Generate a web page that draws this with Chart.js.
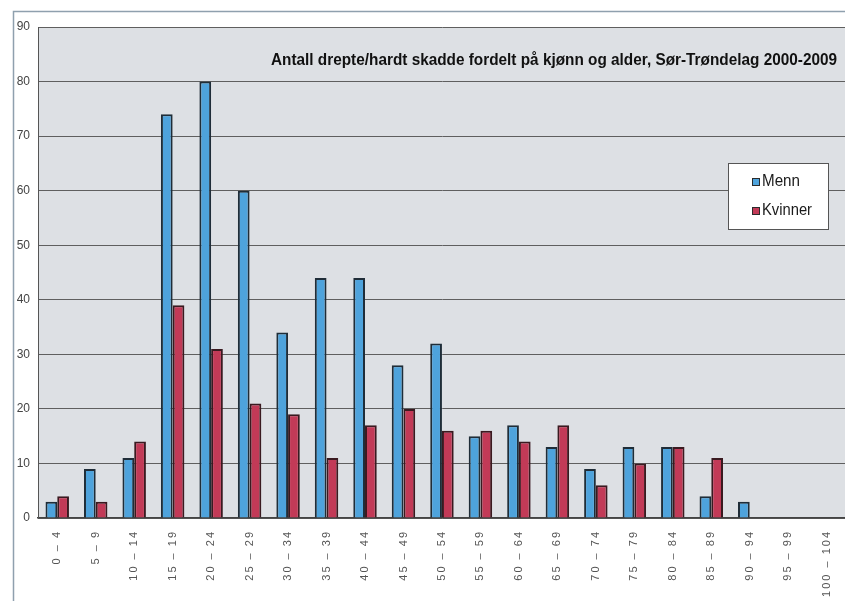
<!DOCTYPE html>
<html>
<head>
<meta charset="utf-8">
<script src="https://cdn.jsdelivr.net/npm/chart.js@4.4.1/dist/chart.umd.min.js"></script>
<style>
  html, body { margin: 0; padding: 0; background: #fff; }
  #wrap { position: relative; width: 845px; height: 601px; overflow: hidden; }
  #skadde { position: absolute; left: 0; top: 0; }
</style>
</head>
<body>
<div id="wrap"><canvas id="skadde" width="852" height="601"></canvas></div>
<script>
// aldersgrupper og antall drepte/hardt skadde
const ageGroups = ['0 – 4', '5 – 9', '10 – 14', '15 – 19', '20 – 24', '25 – 29', '30 – 34',
  '35 – 39', '40 – 44', '45 – 49', '50 – 54', '55 – 59', '60 – 64', '65 – 69', '70 – 74',
  '75 – 79', '80 – 84', '85 – 89', '90 – 94', '95 – 99', '100 – 104'];
const menn    = [3, 9, 11, 74, 80, 60, 34, 44, 44, 28, 32, 15, 17, 13, 9, 13, 13, 4, 3, 0, 0];
const kvinner = [4, 3, 14, 39, 31, 21, 19, 11, 17, 20, 16, 16, 14, 17, 6, 10, 13, 11, 0, 0, 0];
const yTicks  = [0, 10, 20, 30, 40, 50, 60, 70, 80, 90];

const titleText = 'Antall drepte/hardt skadde fordelt på kjønn og alder, Sør-Trøndelag 2000-2009';
const narrow = '"Liberation Sans Narrow", "Arial Narrow", "Liberation Sans", Arial, sans-serif';

// grey plot background, outer frame, title and the boxed legend inside the plot
const decor = {
  id: 'decor',
  beforeDraw(chart) {
    const { ctx, chartArea: a } = chart;
    ctx.save();
    ctx.fillStyle = '#dde0e4';
    ctx.fillRect(a.left, a.top, a.right - a.left, a.bottom - a.top);
    ctx.strokeStyle = '#8fa0ae';
    ctx.lineWidth = 1.5;
    ctx.beginPath();
    ctx.moveTo(13.5, 601);
    ctx.lineTo(13.5, 11.5);
    ctx.lineTo(852, 11.5);
    ctx.stroke();
    ctx.restore();
  },
  afterDraw(chart) {
    const { ctx } = chart;
    ctx.save();
    ctx.letterSpacing = '0px';
    // title, squeezed to the width it has in the original
    ctx.font = 'bold 17px ' + narrow;
    ctx.fillStyle = '#111';
    ctx.textBaseline = 'middle';
    const w = ctx.measureText(titleText).width;
    const target = 566;
    ctx.save();
    ctx.translate(837, 60);
    ctx.scale(target / w, 1);
    ctx.textAlign = 'right';
    ctx.fillText(titleText, 0, 0);
    ctx.restore();

    // legend box
    const bx = 728, by = 163, bw = 100, bh = 66;
    ctx.fillStyle = '#ffffff';
    ctx.fillRect(bx, by, bw, bh);
    ctx.strokeStyle = '#555';
    ctx.lineWidth = 1;
    ctx.strokeRect(bx + 0.5, by + 0.5, bw, bh);
    ctx.textAlign = 'left';
    chart.data.datasets.forEach((ds, i) => {
      const cy = 182 + i * 29;
      ctx.fillStyle = ds.backgroundColor;
      ctx.fillRect(752, cy - 4, 8, 8);
      ctx.strokeStyle = '#2b2b2b';
      ctx.strokeRect(752.5, cy - 3.5, 7, 7);
      ctx.fillStyle = '#1a1a1a';
      ctx.font = '16px ' + narrow;
      const tw = ctx.measureText(ds.label).width;
      const want = i === 0 ? 38 : 50;
      ctx.save();
      ctx.translate(762, cy);
      ctx.scale(want / tw, 1);
      ctx.fillText(ds.label, 0, 0);
      ctx.restore();
    });
    ctx.restore();
  },
  afterLayout(chart) {
    // spaced-out rotated category labels as in the scan
    const s = chart.scales.x;
    if (s && !s._spaced) {
      const orig = s.drawLabels.bind(s);
      s.drawLabels = function (area) {
        this.ctx.save();
        this.ctx.letterSpacing = '2px';
        orig(area);
        this.ctx.restore();
      };
      s._spaced = true;
    }
  }
};

const ctx = document.getElementById('skadde').getContext('2d');
const chart = new Chart(ctx, {
  type: 'bar',
  data: {
    labels: ageGroups,
    datasets: [
      {
        label: 'Menn',
        data: menn,
        backgroundColor: '#4ea3dc',
        borderColor: '#1f2d38',
        borderWidth: 2,
        borderSkipped: 'bottom'
      },
      {
        label: 'Kvinner',
        data: kvinner,
        backgroundColor: '#c23a57',
        borderColor: '#3a1a20',
        borderWidth: 2,
        borderSkipped: 'bottom'
      }
    ]
  },
  options: {
    responsive: false,
    animation: false,
    layout: { padding: { top: 27, right: 5, left: 0, bottom: 0 } },
    datasets: {
      bar: { categoryPercentage: 0.61, barPercentage: 1.0 }
    },
    plugins: {
      legend: { display: false },
      tooltip: { enabled: false }
    },
    scales: {
      x: {
        grid: { display: false, drawTicks: false },
        border: { display: true, color: '#444', width: 1.5 },
        ticks: {
          autoSkip: false,
          minRotation: 90,
          maxRotation: 90,
          padding: 12,
          color: '#555',
          font: { family: '"Liberation Sans", Arial, sans-serif', size: 11 }
        },
        afterFit(scale) { scale.height = 83; }
      },
      y: {
        min: 0,
        max: 90,
        afterBuildTicks(scale) { scale.ticks = yTicks.map(v => ({ value: v })); },
        grid: { color: '#5f5f5f', lineWidth: 1, drawTicks: false },
        border: { display: true, color: '#555', width: 1 },
        ticks: {
          padding: 8,
          color: '#444',
          font: { family: '"Liberation Sans", Arial, sans-serif', size: 12 }
        },
        afterFit(scale) { scale.width = 38; }
      }
    }
  },
  plugins: [decor]
});
</script>
</body>
</html>
